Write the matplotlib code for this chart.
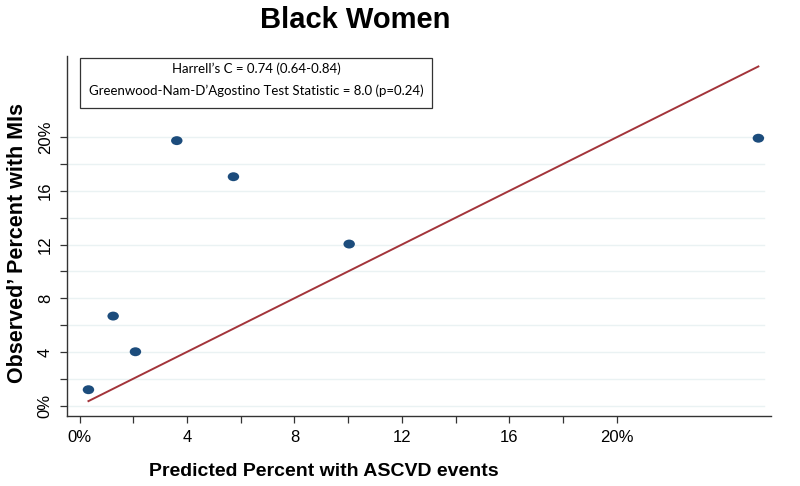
import matplotlib
matplotlib.use("Agg")
import matplotlib.pyplot as plt
from matplotlib.path import Path

# ---------------- data ----------------
predicted = [0.33, 1.25, 2.08, 3.62, 5.73, 10.04, 25.28]
observed = [1.18, 6.67, 4.01, 19.75, 17.06, 12.04, 19.93]

x_ticks = [0, 2, 4, 6, 8, 10, 12, 14, 16, 18, 20]
x_labels = ["0%", "", "4", "", "8", "", "12", "", "16", "", "20%"]
y_ticks = [0, 2, 4, 6, 8, 10, 12, 14, 16, 18, 20]
y_labels = ["0%", "", "4", "", "8", "", "12", "", "16", "", "20%"]

stats_text = ["Harrell\u2019s C = 0.74 (0.64-0.84)",
              "Greenwood-Nam-D\u2019Agostino Test Statistic = 8.0 (p=0.24)"]

# slightly flattened dot, as in the reference
circ = Path.unit_circle()
dot = Path(circ.vertices * [1.0, 0.78], circ.codes)

# ---------------- figure ----------------
fig = plt.figure(figsize=(8, 4.86), dpi=100)
ax = fig.add_axes([66.7 / 800, 1 - 416 / 486, (771 - 66.7) / 800, (416 - 56) / 486])

# reference line y = x over range of predicted values
lo, hi = min(predicted), max(predicted)
ax.plot([lo, hi], [lo, hi], color="#a3343a", lw=1.4, zorder=2)
ax.scatter(predicted, observed, s=68, marker=dot, color="#1c4c7c", edgecolors="none", zorder=3)

ax.set_xlim(-0.48, 25.75)
ax.set_ylim(-0.78, 26.06)

ax.set_xticks(x_ticks)
ax.set_xticklabels(x_labels, fontsize=12, family="Liberation Sans")
ax.set_yticks(y_ticks)
ax.set_yticklabels(y_labels, fontsize=12, family="Liberation Sans", rotation=90, va="center")
ax.tick_params(axis="both", length=5, width=0.9, color="#333333", pad=5)

for y in y_ticks:
    ax.axhline(y, xmin=0, xmax=0.99, color="#eaf2f3", lw=1.0, zorder=0)

for s in ["top", "right"]:
    ax.spines[s].set_visible(False)
for s in ["left", "bottom"]:
    ax.spines[s].set_linewidth(1.0)
    ax.spines[s].set_color("#333333")

ax.set_xlabel("Predicted Percent with ASCVD events", fontsize=14, fontweight="bold",
              family="Liberation Sans")
ax.xaxis.set_label_coords((324 - 66.7) / (771 - 66.7), -0.13)
ax.set_ylabel("Observed\u2019 Percent with MIs", fontsize=15.5, fontweight="bold",
              family="Liberation Sans")
ax.yaxis.set_label_coords(-0.055, 0.48)

fig.text(355 / 800, 1 - 28.5 / 486, "Black Women", fontsize=21, fontweight="bold",
         family="Liberation Sans", ha="center", va="baseline")

# stats box
box = plt.Rectangle((80 / 800, 1 - 108 / 486), (432 - 80) / 800, 50 / 486,
                    transform=fig.transFigure, fill=False, edgecolor="#333333", lw=0.9)
fig.patches.append(box)
fig.text(256 / 800, 1 - 69 / 486, stats_text[0], fontsize=9.5, family="Lato",
         ha="center", va="center")
fig.text(256 / 800, 1 - 91 / 486, stats_text[1], fontsize=9.5, family="Lato",
         ha="center", va="center")

fig.savefig("out.png", dpi=100)
